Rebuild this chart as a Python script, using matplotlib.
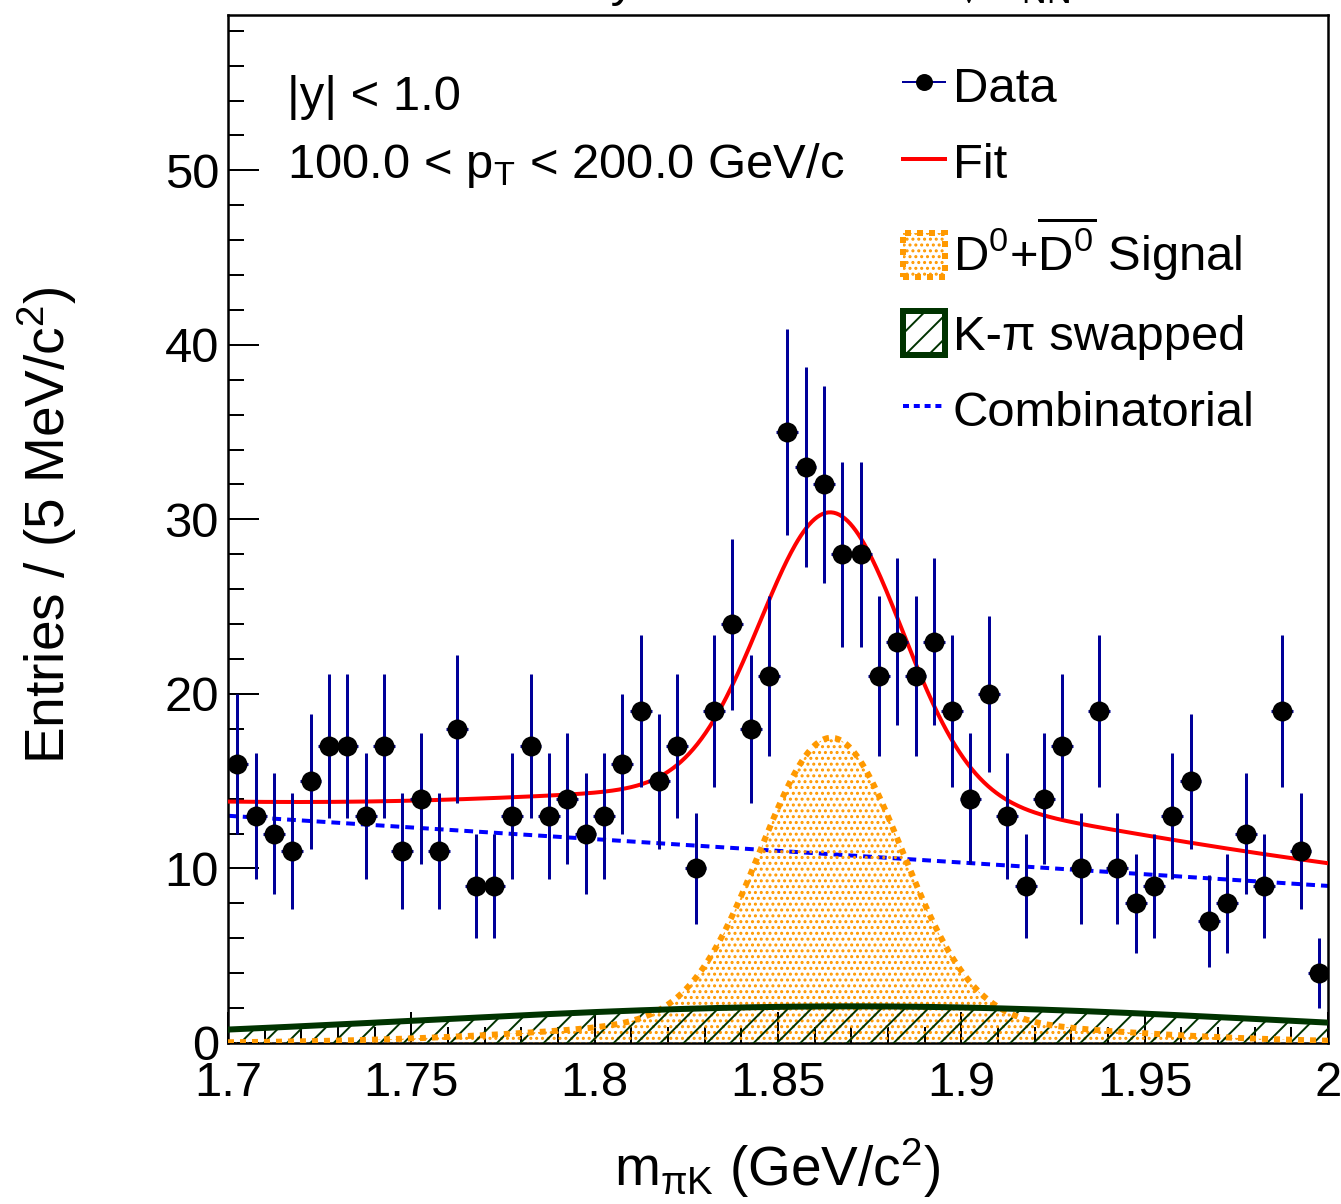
"""
D0 invariant-mass fit, |y| < 1, 100 < pT < 200 GeV/c.
Data with Poisson errors, total fit and its three components.
"""

import matplotlib

matplotlib.use("Agg")
import matplotlib.pyplot as plt
import numpy as np
from matplotlib.lines import Line2D
from matplotlib.patches import Patch
from matplotlib.ticker import FuncFormatter, MultipleLocator

plt.rcParams["font.family"] = ["Liberation Sans", "DejaVu Sans"]
plt.rcParams["mathtext.fontset"] = "custom"
plt.rcParams["mathtext.rm"] = "Liberation Sans"
plt.rcParams["mathtext.it"] = "Liberation Sans"
plt.rcParams["mathtext.bf"] = "Liberation Sans:bold"
plt.rcParams["hatch.linewidth"] = 1.0

W, H, DPI = 1341, 1204, 140


def px(n):
    # pixel size -> points at the output dpi
    return n * 72.0 / DPI


# ── histogram: 60 bins of 5 MeV from 1.70 to 2.00 GeV ────────────────────────
MASS_LO = 1.70
MASS_HI = 2.00
BIN_WIDTH = 0.005
COUNTS = [16, 13, 12, 11, 15, 17, 17, 13, 17, 11,
          14, 11, 18, 9, 9, 13, 17, 13, 14, 12,
          13, 16, 19, 15, 17, 10, 19, 24, 18, 21,
          35, 33, 32, 28, 28, 21, 23, 21, 23, 19,
          14, 20, 13, 9, 14, 17, 10, 19, 10, 8,
          9, 13, 15, 7, 8, 12, 9, 19, 11, 4]

# ── fit components ──────────────────────────────────────────────────────────
# combinatorial: straight line
COMB_AT_LO = 13.02
COMB_SLOPE = -13.4
# K-pi swapped: broad gaussian
SWAP_AMP = 2.1
SWAP_MEAN = 1.870
SWAP_SIGMA = 0.12
# signal: double gaussian with common mean
SIG_MEAN = 1.8645
SIG_AMP_NARROW = 16.05
SIG_SIGMA_NARROW = 0.0192
SIG_AMP_WIDE = 1.44
SIG_SIGMA_WIDE = 0.062

C_ERR = "#000099"
C_FIT = "#ff0000"
C_SIG = "#ff9900"
C_SWAP = "#003300"
C_COMB = "#0000ff"


def gauss(x, amp, mean, sigma):
    return amp * np.exp(-0.5 * ((x - mean) / sigma) ** 2)


def main():
    counts = np.array(COUNTS, dtype=float)
    centers = MASS_LO + (np.arange(len(counts)) + 0.5) * BIN_WIDTH
    errors = np.sqrt(counts)

    xf = np.linspace(MASS_LO, MASS_HI, 800)
    comb = COMB_AT_LO + COMB_SLOPE * (xf - MASS_LO)
    swap = gauss(xf, SWAP_AMP, SWAP_MEAN, SWAP_SIGMA)
    sig = gauss(xf, SIG_AMP_NARROW, SIG_MEAN, SIG_SIGMA_NARROW) + gauss(
        xf, SIG_AMP_WIDE, SIG_MEAN, SIG_SIGMA_WIDE
    )
    total = comb + swap + sig

    fig = plt.figure(figsize=(W / DPI, H / DPI), dpi=DPI)
    fig.patch.set_facecolor("white")
    ax = fig.add_axes([228 / W, 1 - 1043 / H, 1100 / W, 1028 / H])

    ax.plot(xf, comb, color=C_COMB, lw=px(4), dashes=(2.2, 1.5), zorder=2)
    ax.fill_between(xf, 0, sig, facecolor="none", edgecolor=C_SIG,
                    hatch="....", linewidth=0, zorder=3)
    ax.fill_between(xf, 0, swap, facecolor="none", edgecolor=C_SWAP,
                    hatch="//", linewidth=0, zorder=3.1)
    ax.plot(xf, sig, color=C_SIG, lw=px(6), dashes=(1, 1), zorder=3.2)
    ax.plot(xf, swap, color=C_SWAP, lw=px(6), zorder=3.3)
    ax.plot(xf, total, color=C_FIT, lw=px(4), zorder=4)

    ax.errorbar(centers, counts, yerr=errors, xerr=0.003, fmt="o",
                color="black", ms=px(18), ecolor=C_ERR, elinewidth=px(3),
                capsize=0, zorder=5)

    ax.set_xlim(MASS_LO, MASS_HI)
    ax.set_ylim(0, 58.9)
    ax.xaxis.set_major_locator(MultipleLocator(0.05))
    ax.xaxis.set_minor_locator(MultipleLocator(0.01))
    ax.yaxis.set_major_locator(MultipleLocator(10))
    ax.yaxis.set_minor_locator(MultipleLocator(2))
    ax.xaxis.set_major_formatter(FuncFormatter(lambda v, _: f"{v:g}"))
    ax.tick_params(which="both", direction="in", top=False, right=False,
                   width=px(2), colors="black")
    ax.tick_params(which="major", length=px(31), labelsize=px(49))
    ax.tick_params(which="minor", length=px(16))
    ax.tick_params(axis="x", pad=px(18))
    ax.tick_params(axis="y", pad=px(9))
    for sp in ax.spines.values():
        sp.set_linewidth(px(2.5))

    fs = px(49)
    ax.text((287 - 228) / 1100, (1043 - 110) / 1028, "|y| < 1.0",
            fontsize=fs, transform=ax.transAxes, va="baseline")
    ax.text((287 - 228) / 1100, (1043 - 178) / 1028,
            r"100.0 < p$_{\mathrm{T}}$ < 200.0 GeV/c", fontsize=fs,
            transform=ax.transAxes, va="baseline")

    handles = [
        Line2D([], [], color=C_ERR, lw=px(2), marker="o", ms=px(15),
               mfc="black", mec="black"),
        Line2D([], [], color=C_FIT, lw=px(4)),
        Patch(facecolor="white", edgecolor=C_SIG, hatch="....",
              linewidth=px(6), linestyle=(0, (1, 1))),
        Patch(facecolor="white", edgecolor=C_SWAP, hatch="//",
              linewidth=px(6)),
        Line2D([], [], color=C_COMB, lw=px(4), dashes=(1.5, 1.2)),
    ]
    labels = [
        "Data",
        "Fit",
        r"D$^{0}$+$\overline{\mathrm{D}^{0}}$ Signal",
        "K-π swapped",
        "Combinatorial",
    ]
    ax.legend(handles, labels, loc="upper left",
              bbox_to_anchor=((903 - 228) / 1100, (1043 - 63) / 1028),
              frameon=False, fontsize=fs, handlelength=0.86,
              handleheight=1.0, handletextpad=0.16, labelspacing=0.56,
              borderpad=0, borderaxespad=0)

    tfs = px(55)
    fig.text(777 / W, 1 - 1186 / H, r"m$_{\pi\mathrm{K}}$ (GeV/c$^{2}$)",
             fontsize=tfs, ha="center", va="baseline")
    fig.text(47 / W, 1 - 525 / H, r"Entries / (5 MeV/c$^{2}$)",
             fontsize=tfs, rotation=90, ha="center", va="center")

    # header line sits just above the canvas edge
    fig.text(635 / W, 1 + 4 / H, "CMS Preliminary", fontsize=fs,
             ha="right", va="baseline")
    fig.text(950 / W, 1 + 4 / H, r"$\sqrt{s_{\mathrm{NN}}}$ = 5.02 TeV",
             fontsize=fs, ha="left", va="baseline")

    fig.savefig("out.png", dpi=DPI, facecolor="white")
    plt.close(fig)


if __name__ == "__main__":
    main()
